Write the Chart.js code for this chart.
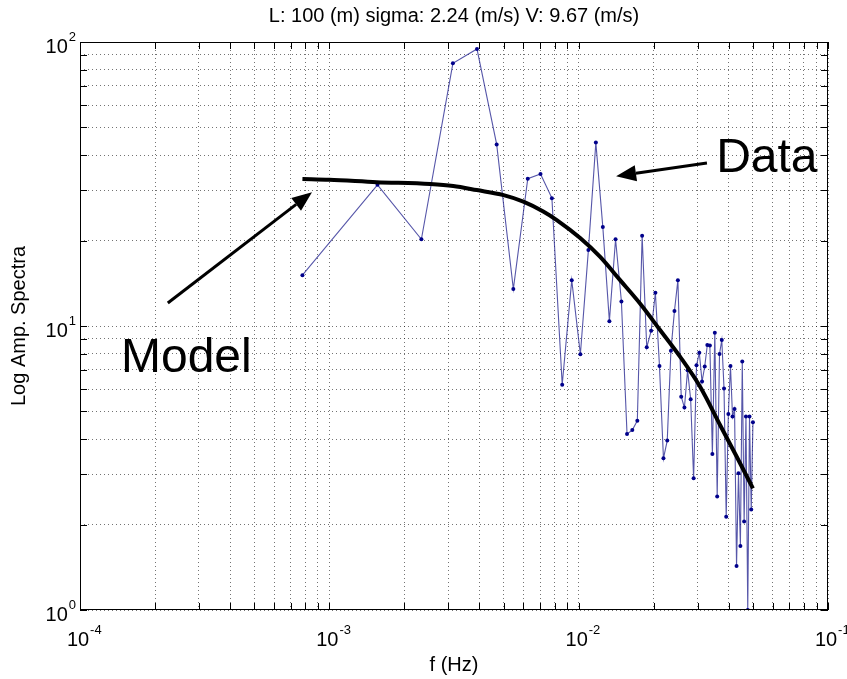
<!DOCTYPE html>
<html>
<head>
<meta charset="utf-8">
<script src="https://cdn.jsdelivr.net/npm/chart.js@4.4.0/dist/chart.umd.min.js"></script>
<style>
body { margin: 0; background: #fff; }
#wrap { width: 847px; height: 679px; }
</style>
</head>
<body>
<div id="wrap"><canvas id="spectra" width="847" height="679"></canvas></div>
<script>
// frequency bins (Hz) and measured amplitude
var freqHz = [0.00078, 0.00156, 0.00234, 0.00313, 0.00391, 0.00469, 0.00547, 0.00625,
    0.00703, 0.00781, 0.00859, 0.00938, 0.01016, 0.01094, 0.01172, 0.0125,
    0.01328, 0.01406, 0.01484, 0.01563, 0.01641, 0.01719, 0.01797, 0.01875,
    0.01953, 0.02031, 0.02109, 0.02188, 0.02266, 0.02344, 0.02422, 0.025,
    0.02578, 0.02656, 0.02734, 0.02813, 0.02891, 0.02969, 0.03047, 0.03125,
    0.03203, 0.03281, 0.03359, 0.03438, 0.03516, 0.03594, 0.03672, 0.0375,
    0.03828, 0.03906, 0.03984, 0.04063, 0.04141, 0.04219, 0.04297, 0.04375,
    0.04453, 0.04531, 0.04609, 0.04688, 0.04766, 0.04844, 0.04922, 0.05];
var ampData = [15.1, 31.4, 20.2, 84.1, 94.5, 43.6, 13.5, 33.0,
    34.3, 28.2, 6.21, 14.5, 7.95, 18.5, 44.3, 22.3,
    10.4, 20.2, 12.2, 4.17, 4.30, 4.64, 20.8, 8.41,
    9.62, 13.1, 7.23, 3.42, 3.95, 8.19, 11.3, 14.5,
    5.64, 5.16, 6.98, 5.52, 2.91, 7.27, 8.05, 6.37,
    7.2, 8.57, 8.53, 3.54, 9.47, 2.51, 7.97, 8.93,
    6.03, 2.13, 4.90, 7.23, 4.80, 5.10, 1.43, 3.03,
    1.68, 7.5, 2.05, 4.80, 1.0, 4.80, 2.26, 4.58];

// model curve
var modelFreq = [0.00078, 0.001, 0.00155, 0.00254, 0.00314, 0.0039, 0.005, 0.006, 0.00721, 0.00817,
    0.01014, 0.0122, 0.01466, 0.01762, 0.0212, 0.0255, 0.0307, 0.0369, 0.043, 0.05];
var modelAmp = [32.9, 32.7, 32.1, 31.6, 31.1, 30.1, 28.9, 27.4, 25.3, 23.6,
    20.4, 17.5, 14.5, 12.0, 9.68, 7.80, 6.11, 4.48, 3.47, 2.68];

var xDecades = [1e-4, 1e-3, 1e-2, 1e-1];
var xExpLabels = ['-4', '-3', '-2', '-1'];
var yDecades = [1, 10, 100];
var yExpLabels = ['0', '1', '2'];
var minorSteps = [2, 3, 4, 5, 6, 7, 8, 9];

var titleText = 'L: 100 (m) sigma: 2.24 (m/s) V: 9.67 (m/s)';
var xTitle = 'f (Hz)';
var yTitle = 'Log Amp. Spectra';

// annotations, in data units: [x, y]
var dataNote = { text: 'Data', at: [0.0356, 34.9], from: [0.0327, 37.5], to: [0.01413, 33.7] };
var modelNote = { text: 'Model', at: [1.46e-4, 6.89], from: [2.25e-4, 12.05], to: [8.52e-4, 29.6] };

var FONT = '"Liberation Sans", Arial, Helvetica, sans-serif';

function logTicks(decades) {
    var out = [];
    for (var i = 0; i < decades.length; i++) {
        out.push({ value: decades[i], major: true });
        if (i < decades.length - 1) {
            minorSteps.forEach(function (m) {
                out.push({ value: decades[i] * m, major: false });
            });
        }
    }
    return out;
}

function powerLabel(ctx, exp, x, y, align) {
    ctx.font = '20px ' + FONT;
    var w1 = ctx.measureText('10').width;
    ctx.font = '13px ' + FONT;
    var w2 = ctx.measureText(exp).width;
    var left = align === 'right' ? x - w1 - w2 - 1 : x - w1 / 2 - 2;
    ctx.textAlign = 'left';
    ctx.textBaseline = 'alphabetic';
    ctx.font = '20px ' + FONT;
    ctx.fillText('10', left, y);
    ctx.font = '13px ' + FONT;
    ctx.fillText(exp, left + w1 + 1, y - 12);
}

function arrow(ctx, x1, y1, x2, y2) {
    var ang = Math.atan2(y2 - y1, x2 - x1);
    var len = 20, half = 8;
    var bx = x2 - len * Math.cos(ang), by = y2 - len * Math.sin(ang);
    ctx.beginPath();
    ctx.moveTo(x1, y1);
    ctx.lineTo(bx, by);
    ctx.stroke();
    ctx.beginPath();
    ctx.moveTo(x2, y2);
    ctx.lineTo(bx + half * Math.sin(ang), by - half * Math.cos(ang));
    ctx.lineTo(bx - half * Math.sin(ang), by + half * Math.cos(ang));
    ctx.closePath();
    ctx.fill();
}

var matlabAxes = {
    id: 'matlabAxes',
    afterDraw: function (chart) {
        var ctx = chart.ctx, a = chart.chartArea;
        var xs = chart.scales.x, ys = chart.scales.y;
        ctx.save();

        // axes box
        ctx.strokeStyle = '#000';
        ctx.lineWidth = 1;
        ctx.strokeRect(a.left + 0.5, a.top + 0.5, a.right - a.left - 1, a.bottom - a.top - 1);

        // inward tick marks on all four sides
        var tl = 7;
        ctx.beginPath();
        xs.ticks.forEach(function (t) {
            var px = Math.round(xs.getPixelForValue(t.value)) + 0.5;
            ctx.moveTo(px, a.bottom); ctx.lineTo(px, a.bottom - tl);
            ctx.moveTo(px, a.top); ctx.lineTo(px, a.top + tl);
        });
        ys.ticks.forEach(function (t) {
            var py = Math.round(ys.getPixelForValue(t.value)) + 0.5;
            ctx.moveTo(a.left, py); ctx.lineTo(a.left + tl, py);
            ctx.moveTo(a.right, py); ctx.lineTo(a.right - tl, py);
        });
        ctx.stroke();

        // tick labels
        ctx.fillStyle = '#000';
        xDecades.forEach(function (v, i) {
            powerLabel(ctx, xExpLabels[i], xs.getPixelForValue(v), a.bottom + 36, 'center');
        });
        yDecades.forEach(function (v, i) {
            powerLabel(ctx, yExpLabels[i], a.left - 4, ys.getPixelForValue(v) + 11, 'right');
        });

        // title and axis titles
        ctx.textAlign = 'center';
        ctx.textBaseline = 'alphabetic';
        ctx.font = '20px ' + FONT;
        ctx.fillText(titleText, (a.left + a.right) / 2, 22);
        ctx.fillText(xTitle, (a.left + a.right) / 2, a.bottom + 61);
        ctx.save();
        ctx.translate(25, (a.top + a.bottom) / 2);
        ctx.rotate(-Math.PI / 2);
        ctx.fillText(yTitle, 0, 0);
        ctx.restore();

        // annotations
        ctx.lineWidth = 3;
        ctx.strokeStyle = '#000';
        [dataNote, modelNote].forEach(function (n) {
            arrow(ctx, xs.getPixelForValue(n.from[0]), ys.getPixelForValue(n.from[1]),
                xs.getPixelForValue(n.to[0]), ys.getPixelForValue(n.to[1]));
            ctx.font = '48px ' + FONT;
            ctx.textAlign = 'left';
            ctx.fillText(n.text, xs.getPixelForValue(n.at[0]), ys.getPixelForValue(n.at[1]));
        });
        ctx.restore();
    }
};

var gridOpts = { color: 'rgba(0,0,0,0.55)', lineWidth: 1, drawTicks: false, tickLength: 0 };

var chart = new Chart(document.getElementById('spectra'), {
    type: 'line',
    data: {
        datasets: [{
            label: 'Model',
            data: modelFreq.map(function (f, i) { return { x: f, y: modelAmp[i] }; }),
            borderColor: '#000',
            borderWidth: 4,
            pointRadius: 0,
            cubicInterpolationMode: 'monotone',
            order: 0
        }, {
            label: 'Data',
            data: freqHz.map(function (f, i) { return { x: f, y: ampData[i] }; }),
            borderColor: 'rgba(30,30,140,0.75)',
            borderWidth: 1.1,
            pointRadius: 2,
            pointBorderWidth: 0,
            pointBackgroundColor: '#00008b',
            tension: 0,
            order: 1
        }]
    },
    options: {
        responsive: false,
        animation: false,
        layout: { padding: { left: 0, top: 42, right: 19, bottom: 0 } },
        plugins: { legend: { display: false }, tooltip: { enabled: false }, title: { display: false } },
        scales: {
            x: {
                type: 'logarithmic',
                min: 1e-4,
                max: 1e-1,
                afterBuildTicks: function (s) { s.ticks = logTicks(xDecades); },
                afterFit: function (s) { s.height = 69; },
                ticks: { display: false },
                grid: gridOpts,
                border: { display: false, dash: [1, 3] }
            },
            y: {
                type: 'logarithmic',
                min: 1,
                max: 100,
                afterBuildTicks: function (s) { s.ticks = logTicks(yDecades); },
                afterFit: function (s) { s.width = 80; },
                ticks: { display: false },
                grid: gridOpts,
                border: { display: false, dash: [1, 3] }
            }
        }
    },
    plugins: [matlabAxes]
});
</script>
</body>
</html>
